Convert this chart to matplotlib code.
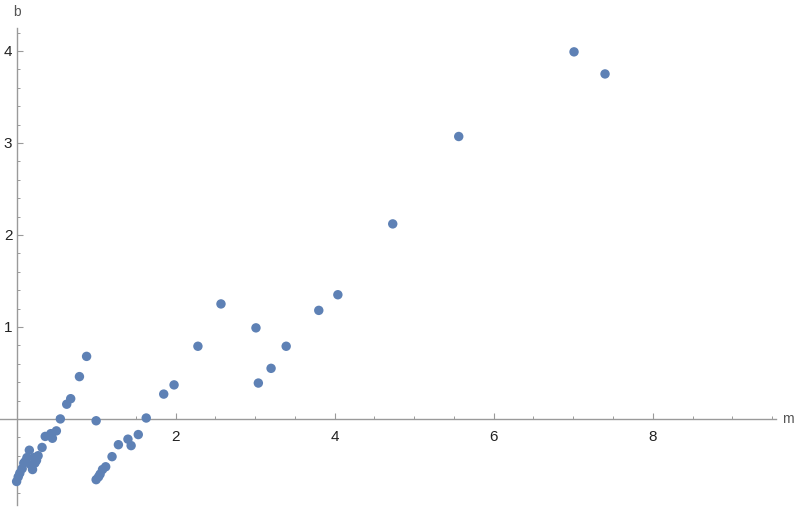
import matplotlib.pyplot as plt
from matplotlib.ticker import MultipleLocator

# points (m, b)
m = [0.00, 0.02, 0.04, 0.07, 0.09, 0.13, 0.16, 0.20, 0.22, 0.23, 0.25, 0.27,
     0.18, 0.11, 0.32, 0.36, 0.43, 0.45, 0.50, 0.55, 0.63, 0.68, 0.79, 0.88,
     1.00, 1.00, 1.03, 1.05, 1.08, 1.12, 1.20, 1.28, 1.40, 1.44, 1.53, 1.63,
     1.85, 1.98, 2.28, 2.57, 3.01, 3.04, 3.20, 3.39, 3.80, 4.04, 4.73, 5.56,
     7.01, 7.40]
b = [-0.68, -0.63, -0.59, -0.54, -0.48, -0.42, -0.34, -0.55, -0.42, -0.48, -0.45, -0.40,
     -0.50, -0.46, -0.31, -0.19, -0.16, -0.21, -0.13, 0.00, 0.16, 0.22, 0.46, 0.68,
     -0.02, -0.66, -0.63, -0.60, -0.55, -0.52, -0.41, -0.28, -0.22, -0.29, -0.17, 0.01,
     0.27, 0.37, 0.79, 1.25, 0.99, 0.39, 0.55, 0.79, 1.18, 1.35, 2.12, 3.07,
     3.99, 3.75]

plt.rcParams['font.family'] = ['Liberation Sans', 'DejaVu Sans']

fig = plt.figure(figsize=(8, 5.08), dpi=100)
ax = fig.add_axes([0.0, 0.006, 0.97, 0.939])

ax.scatter(m, b, s=46, color='#5e81b5', edgecolors='none', zorder=3)

ax.set_xlim(-0.209, 9.55)
ax.set_ylim(-0.935, 4.25)

axis_col = '#9a9a9a'
ax.spines['left'].set_position(('data', 0))
ax.spines['bottom'].set_position(('data', 0))
ax.spines['right'].set_visible(False)
ax.spines['top'].set_visible(False)
for s in ['left', 'bottom']:
    ax.spines[s].set_color(axis_col)
    ax.spines[s].set_linewidth(1.0)

ax.xaxis.set_minor_locator(MultipleLocator(0.5))
ax.yaxis.set_minor_locator(MultipleLocator(0.2))
ax.set_xticks([2, 4, 6, 8])
ax.set_yticks([1, 2, 3, 4])
ax.set_xticklabels(['2', '4', '6', '8'])
ax.set_yticklabels(['1', '2', '3', '4'])

ax.tick_params(which='major', direction='in', length=4, width=0.8, color=axis_col,
               labelsize=11, labelcolor='#222222')
ax.tick_params(which='minor', direction='in', length=2.5, width=0.7, color=axis_col)
ax.tick_params(axis='x', which='major', pad=8)
ax.tick_params(axis='y', which='major', pad=3)
ax.patch.set_visible(False)

ax.text(9.62, 0, 'm', fontsize=10, color='#555555', va='center', ha='left',
        clip_on=False)
ax.text(0, 4.42, 'b', fontsize=10, color='#555555', va='center', ha='center',
        clip_on=False)

fig.savefig('out.png', dpi=100)
